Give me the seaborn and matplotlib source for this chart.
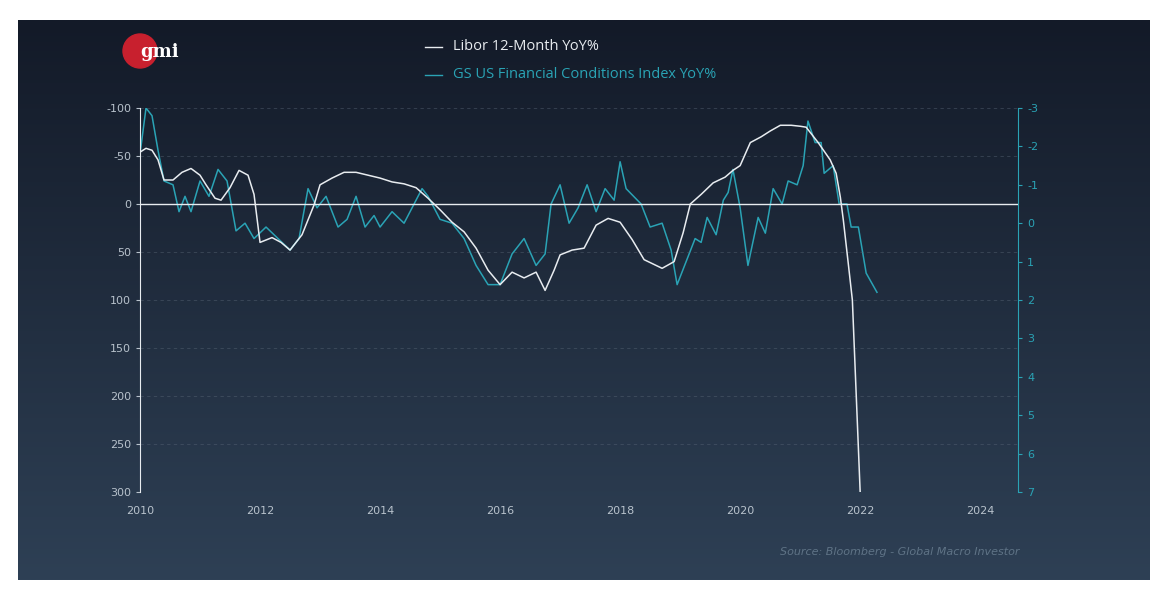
import numpy as np
import pandas as pd
import seaborn as sns
import matplotlib.pyplot as plt
from matplotlib.patches import Ellipse
from matplotlib.colors import LinearSegmentedColormap

plt.rcParams["axes.unicode_minus"] = False

# Libor 12-Month YoY% (left axis, inverted)
libor_t = [2010.0, 2010.1, 2010.2, 2010.3, 2010.4, 2010.55, 2010.7, 2010.85, 2011.0, 2011.1,
           2011.25, 2011.35, 2011.5, 2011.65, 2011.8, 2011.9, 2012.0, 2012.2, 2012.35, 2012.5,
           2012.7, 2012.9, 2013.0, 2013.2, 2013.4, 2013.6, 2013.8, 2014.0, 2014.2, 2014.4,
           2014.6, 2014.8, 2015.0, 2015.2, 2015.4, 2015.6, 2015.8, 2016.0, 2016.2, 2016.4,
           2016.6, 2016.75, 2016.9, 2017.0, 2017.2, 2017.4, 2017.6, 2017.8, 2018.0, 2018.2,
           2018.4, 2018.7, 2018.9, 2019.05, 2019.17, 2019.35, 2019.55, 2019.75, 2019.88, 2020.0,
           2020.17, 2020.35, 2020.5, 2020.67, 2020.85, 2021.0, 2021.1, 2021.3, 2021.5, 2021.6,
           2021.67, 2021.72, 2021.8, 2021.87, 2022.0]
libor_v = [-54, -58, -56, -46, -25, -25, -33, -37, -30, -20,
           -6, -4, -17, -35, -30, -10, 40, 35, 40, 48,
           32, 1, -20, -27, -33, -33, -30, -27, -23, -21,
           -17, -6, 6, 19, 29, 46, 69, 84, 71, 77,
           71, 90, 69, 53, 48, 46, 22, 15, 19, 37,
           58, 67, 60, 30, 0, -10, -22, -28, -35, -40,
           -64, -70, -76, -82, -82, -81, -80, -64, -46, -32,
           -7, 17, 61, 100, 300]

# GS US Financial Conditions Index YoY% (right axis, inverted)
gs_t = [2010.0, 2010.1, 2010.2, 2010.3, 2010.4, 2010.55, 2010.65, 2010.75, 2010.85, 2011.0,
        2011.15, 2011.3, 2011.45, 2011.6, 2011.75, 2011.9, 2012.1, 2012.3, 2012.5, 2012.65,
        2012.8, 2012.95, 2013.1, 2013.3, 2013.45, 2013.6, 2013.75, 2013.9, 2014.0, 2014.2,
        2014.4, 2014.5, 2014.7, 2014.8, 2015.0, 2015.2, 2015.4, 2015.6, 2015.8, 2016.0,
        2016.2, 2016.4, 2016.6, 2016.75, 2016.85, 2017.0, 2017.15, 2017.3, 2017.45, 2017.6,
        2017.75, 2017.9, 2018.0, 2018.1, 2018.35, 2018.5, 2018.7, 2018.85, 2018.95, 2019.1,
        2019.25, 2019.35, 2019.45, 2019.6, 2019.72, 2019.8, 2019.88, 2020.0, 2020.13, 2020.3,
        2020.42, 2020.55, 2020.7, 2020.8, 2020.95, 2021.05, 2021.13, 2021.25, 2021.35, 2021.4,
        2021.55, 2021.65, 2021.78, 2021.85, 2021.97, 2022.1, 2022.28]
gs_v = [-1.8, -3.0, -2.8, -1.9, -1.1, -1.0, -0.3, -0.7, -0.3, -1.1,
        -0.7, -1.4, -1.1, 0.2, 0.0, 0.4, 0.1, 0.4, 0.7, 0.4,
        -0.9, -0.4, -0.7, 0.1, -0.1, -0.7, 0.1, -0.2, 0.1, -0.3,
        0.0, -0.3, -0.9, -0.7, -0.1, 0.0, 0.4, 1.1, 1.6, 1.6,
        0.8, 0.4, 1.1, 0.8, -0.5, -1.0, 0.0, -0.4, -1.0, -0.3,
        -0.9, -0.6, -1.6, -0.9, -0.5, 0.1, 0.0, 0.7, 1.6, 1.0,
        0.4, 0.5, -0.15, 0.3, -0.6, -0.8, -1.4, -0.4, 1.1, -0.15,
        0.26, -0.9, -0.5, -1.1, -1.0, -1.5, -2.66, -2.1, -2.1, -1.3,
        -1.5, -0.5, -0.5, 0.1, 0.1, 1.3, 1.8]

left_ticks = [-100, -50, 0, 50, 100, 150, 200, 250, 300]
right_ticks = [-3, -2, -1, 0, 1, 2, 3, 4, 5, 6, 7]
year_ticks = [2010, 2012, 2014, 2016, 2018, 2020, 2022, 2024]

WHITE = "#e8ecf0"
TEAL = "#2aa3b5"
LABEL = "#b8c2cc"

libor = pd.DataFrame({"t": libor_t, "v": libor_v})
gs = pd.DataFrame({"t": gs_t, "v": gs_v})

fig = plt.figure(figsize=(11.7, 6.02), dpi=100)
fig.patch.set_facecolor("white")

# gradient background panel
bg = fig.add_axes([18 / 1170, 1 - 580 / 602, 1132 / 1170, 560 / 602])
grad = np.linspace(0, 1, 256).reshape(-1, 1)
cmap = LinearSegmentedColormap.from_list("bg", ["#131a28", "#2e4055"])
bg.imshow(grad, aspect="auto", cmap=cmap, extent=[0, 1, 0, 1], origin="upper")
bg.set_axis_off()

ax = fig.add_axes([140 / 1170, 1 - 492 / 602, 878 / 1170, 384 / 602])
ax.patch.set_alpha(0)
ax2 = ax.twinx()

sns.lineplot(data=libor, x="t", y="v", ax=ax, color=WHITE, lw=1.1)
sns.lineplot(data=gs, x="t", y="v", ax=ax2, color=TEAL, lw=1.1)
ax.set_zorder(ax2.get_zorder() + 1)

ax.set_ylim(300, -100)
ax2.set_ylim(7, -3)
ax.set_xlim(2010, 2024.63)
ax.set_yticks(left_ticks)
ax2.set_yticks(right_ticks)
ax.set_xticks(year_ticks)
for y in left_ticks:
    if y != 0:
        ax.axhline(y, color="#5a6878", lw=0.6, ls=(0, (4, 4)), alpha=0.5, zorder=0)
ax.axhline(0, color=WHITE, lw=1.0, zorder=1)

ax.set_xlabel("")
ax.set_ylabel("")
ax2.set_ylabel("")
for a in (ax, ax2):
    for s in a.spines.values():
        s.set_visible(False)
ax.spines["left"].set_visible(True)
ax.spines["left"].set_color(WHITE)
ax2.spines["right"].set_visible(True)
ax2.spines["right"].set_color(TEAL)
ax.tick_params(axis="y", colors=LABEL, labelsize=8, length=3, labelcolor=LABEL)
ax.tick_params(axis="x", length=0, labelsize=8, labelcolor=LABEL, pad=10)
ax2.tick_params(axis="y", colors=TEAL, labelsize=8, length=3, labelcolor=TEAL)

# legend
fig.add_artist(plt.Line2D([425 / 1170, 442 / 1170], [1 - 47 / 602] * 2, color=WHITE, lw=1))
fig.add_artist(plt.Line2D([425 / 1170, 442 / 1170], [1 - 75 / 602] * 2, color=TEAL, lw=1))
fig.text(453 / 1170, 1 - 47 / 602, "Libor 12-Month YoY%", color=WHITE, fontsize=10.5,
         va="center", family="Open Sans")
fig.text(453 / 1170, 1 - 75 / 602, "GS US Financial Conditions Index YoY%", color=TEAL,
         fontsize=10.5, va="center", family="Open Sans")

# logo
fig.add_artist(Ellipse((140 / 1170, 1 - 51 / 602), 34 / 1170, 34 / 602,
                       transform=fig.transFigure, color="#c8202e"))
fig.text(160 / 1170, 1 - 52 / 602, "gmi", color="white", fontsize=13, fontweight="bold",
         family="DejaVu Serif", ha="center", va="center")

fig.text(1020 / 1170, 1 - 552 / 602, "Source: Bloomberg - Global Macro Investor",
         color="#5f7386", fontsize=8, style="italic", ha="right", va="center")

fig.savefig("out.png", dpi=100, facecolor=fig.get_facecolor())
